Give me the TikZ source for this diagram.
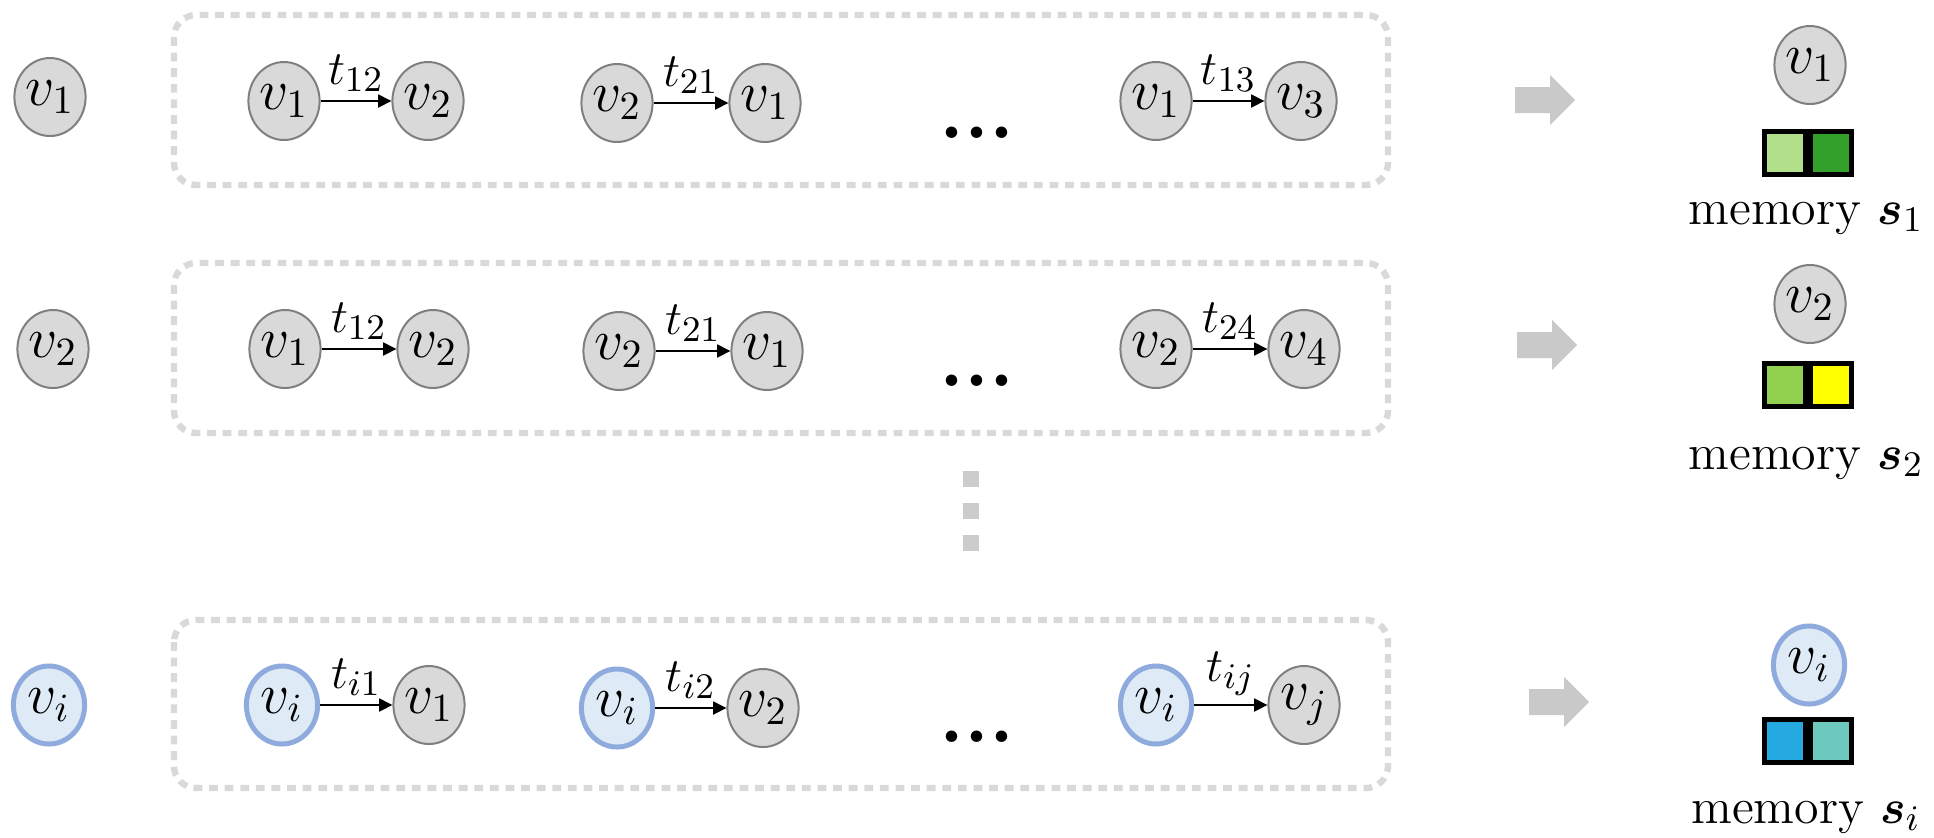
\documentclass[tikz,border=0pt]{standalone}
\usepackage{bm}
\usetikzlibrary{arrows.meta,shapes.geometric}

\definecolor{nodegray}{HTML}{D9D9D9}
\definecolor{nodeedge}{HTML}{7F7F7F}
\definecolor{nodeblue}{HTML}{DEEBF7}
\definecolor{blueedge}{HTML}{8FAADC}
\definecolor{framegray}{HTML}{D9D9D9}
\definecolor{arrowgray}{HTML}{C9C9C9}
\definecolor{squaregray}{HTML}{CCCCCC}
\definecolor{memlightgreen}{HTML}{B2DF8A}
\definecolor{memdarkgreen}{HTML}{33A02C}
\definecolor{memgreen}{HTML}{92D050}
\definecolor{memyellow}{HTML}{FFFF00}
\definecolor{memblue}{HTML}{24A9E1}
\definecolor{memteal}{HTML}{6DC8BE}

\tikzset{
  vg/.style={ellipse, draw=nodeedge, fill=nodegray, line width=0.5pt,
    minimum width=17.8pt, minimum height=19.5pt, inner sep=0pt,
    font=\fontsize{14}{16}\selectfont},
  vb/.style={ellipse, draw=blueedge, fill=nodeblue, line width=1.25pt,
    minimum width=17.8pt, minimum height=19.5pt, inner sep=0pt,
    font=\fontsize{14}{16}\selectfont},
  edge/.style={draw=black, line width=0.6pt, -{Triangle[length=3.3pt,width=3.2pt]}},
  lbl/.style={above, inner sep=2pt, font=\fontsize{12.5}{14}\selectfont},
  frame/.style={draw=framegray, line width=1.6pt, dash pattern=on 2.2pt off 1.7pt,
    rounded corners=5.5pt},
  mem/.style={rectangle, draw=black, line width=1.2pt, minimum width=10.3pt,
    minimum height=10.8pt, inner sep=0pt, outer sep=0pt},
  memtext/.style={anchor=base, font=\fontsize{12.5}{14}\selectfont},
  ellipsis/.style={inner sep=0pt, font=\bfseries\fontsize{20}{20}\selectfont},
  bigarrow/.style={fill=arrowgray},
  vsquare/.style={fill=squaregray}
}

\begin{document}
\begin{tikzpicture}[x=0.25pt, y=-0.25pt]
\useasboundingbox (0,0) rectangle (1934,837);

% dotted frames around each event sequence
\draw[frame] (174,15) rectangle (1388,185);
\draw[frame] (174,263) rectangle (1388,433);
\draw[frame] (174,620) rectangle (1388,788);

% ---- row 1: node v1 ----
\node[vg] (l1) at (50,97) {$v_1$};
\node[vg] (a1) at (284,101) {$v_1$};
\node[vg] (b1) at (428,101) {$v_2$};
\node[vg] (c1) at (617,103) {$v_2$};
\node[vg] (d1) at (765,103) {$v_1$};
\node[vg] (e1) at (1156,101) {$v_1$};
\node[vg] (f1) at (1301,101) {$v_3$};
\draw[edge] (a1) -- node[lbl] {$t_{12}$} (b1);
\draw[edge] (c1) -- node[lbl] {$t_{21}$} (d1);
\draw[edge] (e1) -- node[lbl] {$t_{13}$} (f1);
\node[ellipsis] (g1) at (977,133) {...};

% ---- row 2: node v2 ----
\node[vg] (l2) at (53,349) {$v_2$};
\node[vg] (a2) at (285,349) {$v_1$};
\node[vg] (b2) at (433,349) {$v_2$};
\node[vg] (c2) at (619,351) {$v_2$};
\node[vg] (d2) at (767,351) {$v_1$};
\node[vg] (e2) at (1156,349) {$v_2$};
\node[vg] (f2) at (1304,349) {$v_4$};
\draw[edge] (a2) -- node[lbl] {$t_{12}$} (b2);
\draw[edge] (c2) -- node[lbl] {$t_{21}$} (d2);
\draw[edge] (e2) -- node[lbl] {$t_{24}$} (f2);
\node[ellipsis] (g2) at (977,381) {...};

% vertical ellipsis between the rows
\fill[vsquare] (963,471) rectangle (979,487);
\fill[vsquare] (963,503) rectangle (979,519);
\fill[vsquare] (963,535) rectangle (979,551);

% ---- row 3: node vi ----
\node[vb] (l3) at (49,705) {$v_i$};
\node[vb] (a3) at (282,705) {$v_i$};
\node[vg] (b3) at (429,705) {$v_1$};
\node[vb] (c3) at (617,708) {$v_i$};
\node[vg] (d3) at (763,708) {$v_2$};
\node[vb] (e3) at (1156,705) {$v_i$};
\node[vg] (f3) at (1304,705) {$v_j$};
\draw[edge] (a3) -- node[lbl] {$t_{i1}$} (b3);
\draw[edge] (c3) -- node[lbl] {$t_{i2}$} (d3);
\draw[edge] (e3) -- node[lbl] {$t_{ij}$} (f3);
\node[ellipsis] (g3) at (977,737) {...};

% block arrows towards the memories
\path[bigarrow, shift={(1515,100)}] (0,-13) -- (35,-13) -- (35,-25) -- (60,0) -- (35,25) -- (35,13) -- (0,13) -- cycle;
\path[bigarrow, shift={(1517,345)}] (0,-13) -- (35,-13) -- (35,-25) -- (60,0) -- (35,25) -- (35,13) -- (0,13) -- cycle;
\path[bigarrow, shift={(1529,702)}] (0,-13) -- (35,-13) -- (35,-25) -- (60,0) -- (35,25) -- (35,13) -- (0,13) -- cycle;

% memories
\node[vg] (r1) at (1810,65) {$v_1$};
\node[mem, fill=memlightgreen] (m1a) at (1785,153) {};
\node[mem, fill=memdarkgreen] (m1b) at (1831,153) {};
\node[memtext] (s1) at (1806,224) {memory $\bm{s}_1$};

\node[vg] (r2) at (1810,304) {$v_2$};
\node[mem, fill=memgreen] (m2a) at (1785,385) {};
\node[mem, fill=memyellow] (m2b) at (1831,385) {};
\node[memtext] (s2) at (1806,469) {memory $\bm{s}_2$};

\node[vb] (r3) at (1809,665) {$v_i$};
\node[mem, fill=memblue] (m3a) at (1785,741) {};
\node[mem, fill=memteal] (m3b) at (1831,741) {};
\node[memtext] (s3) at (1806,823) {memory $\bm{s}_i$};
\end{tikzpicture}
\end{document}
